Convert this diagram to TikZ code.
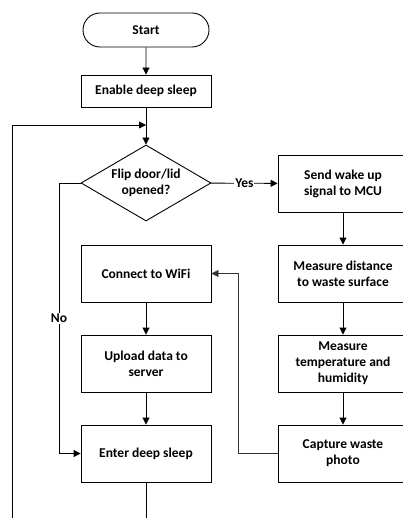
\documentclass[tikz,border=0pt]{standalone}
\usepackage{fontspec}
\setmainfont{Carlito}
\usetikzlibrary{shapes.geometric,shapes.misc,arrows.meta}
\tikzset{
  stepbox/.style={draw, line width=0.9pt, minimum width=130pt, minimum height=57pt,
    inner sep=2pt, align=center, font=\bfseries\fontsize{13.5}{16}\selectfont},
  startbox/.style={stepbox, rounded rectangle, minimum height=34pt},
  decision/.style={stepbox, diamond, aspect=1.71, minimum width=130pt, minimum height=76pt, inner sep=0pt},
  flow/.style={line width=0.9pt, -{Triangle[length=7pt,width=7pt]}},
  thinflow/.style={line width=0.6pt, draw=black!80, -{Triangle[length=7pt,width=7pt]}},
  lbl/.style={font=\bfseries\fontsize{13.5}{16}\selectfont, fill=white, inner sep=1pt}
}
\begin{document}
\begin{tikzpicture}[x=1pt, y=-1pt]
      \useasboundingbox (0,0) rectangle (403,518);
      \clip (0,0) rectangle (403,518);
      \draw
        (146,30) node[startbox] (start){Start}
        (146,91) node[stepbox, minimum height=32pt] (enable){Enable deep sleep}
        (146,183) node[decision] (flip){Flip door/lid\\opened?}
        (343,183.5) node[stepbox] (wake){Send wake up\\signal to MCU}
        (343,273.5) node[stepbox] (dist){Measure distance\\to waste surface}
        (343,363.5) node[stepbox] (temp){Measure\\temperature and\\humidity}
        (343,453.5) node[stepbox] (photo){Capture waste\\photo}
        (146,273.5) node[stepbox] (wifi){Connect to WiFi}
        (146,363.5) node[stepbox] (upload){Upload data to\\server}
        (146,453.5) node[stepbox] (sleep){Enter deep sleep};
      \coordinate (join) at (146,125);
      \coordinate (bottom) at (146,530);
      \coordinate (loopleft) at (12,530);
      \coordinate (noleft) at (59,183);
      \coordinate (backright) at (238,453.5);
      \begin{scope}[flow]
        \draw (start) to (enable);
        \draw (enable) to (flip);
        \draw (flip) to node[lbl]{Yes} (wake);
        \draw (wake) to (dist);
        \draw (dist) to (temp);
        \draw (temp) to (photo);
        \draw (wifi) to (upload);
        \draw (upload) to (sleep);
        \draw (flip.west) -- (noleft) |- node[lbl, pos=0.25]{No} (sleep.west);
        \draw (sleep) -- (bottom) -- (loopleft) |- (join);
      \end{scope}
      \draw[thinflow] (photo.west) -- (backright) |- (wifi.east);
    \end{tikzpicture}
\end{document}
